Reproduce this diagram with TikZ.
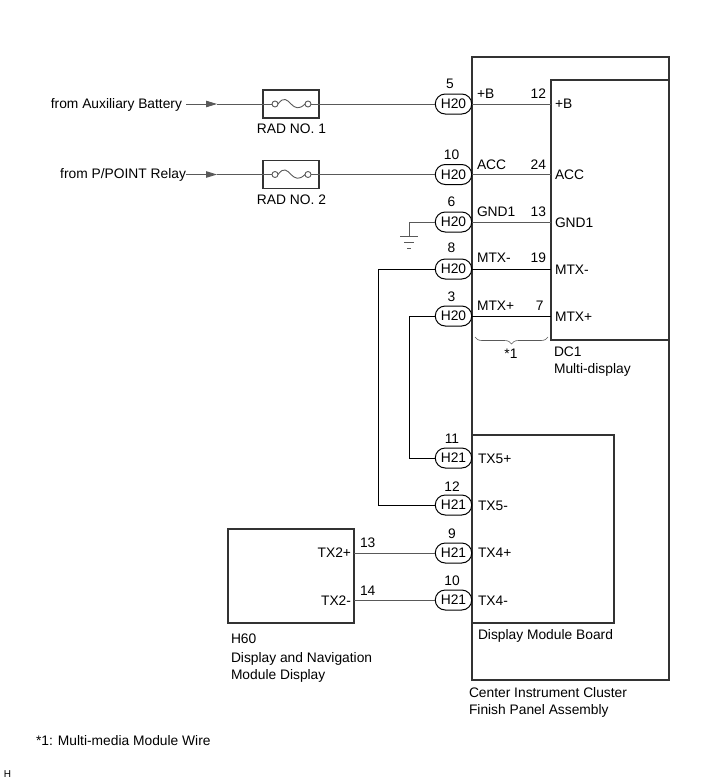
\documentclass[tikz,border=0pt]{standalone}
\usepackage{fontspec}
\setmainfont{Liberation Sans}
\usetikzlibrary{arrows.meta,
                    decorations.pathreplacing,
                    shapes.misc}
\definecolor{fio}{gray}{0.35}
\definecolor{borda}{gray}{0.2}
\tikzset{
caixa/.style = {draw=borda, line width=1.3pt, inner sep=0pt, outer sep=0pt}
         }
\tikzset{
conector/.style = {rounded rectangle, draw=black, line width=1pt, fill=white, minimum width=36.5pt,
        minimum height=20pt, inner sep=0pt, outer sep=0pt, font=\fontsize{13.8}{16}\selectfont}
         }
\tikzset{
rotulo/.style = {inner sep=0pt, outer sep=0pt, font=\fontsize{13.8}{16}\selectfont}
         }
\tikzset{
fio/.style = {draw=fio, line width=0.9pt}
         }
\tikzset{
terminal/.style = {circle, draw=fio, line width=0.9pt, minimum size=6pt, inner sep=0pt, outer sep=0pt}
         }
\begin{document}
\begin{tikzpicture}[x=1pt,y=-1pt]
    \useasboundingbox (0,0) rectangle (713,782);

    % CAIXAS
    \node[caixa, minimum width=197pt, minimum height=623pt] (painel) at (570.5,368.5) {};
    \node[caixa, minimum width=118pt, minimum height=260pt] (dcum) at (610,210) {};
    \node[caixa, minimum width=142pt, minimum height=188pt] (placa) at (543,529) {};
    \node[caixa, minimum width=126pt, minimum height=94pt] (hsessenta) at (291,576) {};

    % FUSIVEIS
    \node[caixa, minimum width=56pt, minimum height=28pt] (radum) at (291,104) {};
    \node[caixa, minimum width=56pt, minimum height=28pt] (raddois) at (291,174.5) {};
    \node[terminal] (fa1) at (275,104) {};
    \node[terminal] (fb1) at (308,104) {};
    \node[terminal] (fa2) at (275,174.5) {};
    \node[terminal] (fb2) at (308,174.5) {};
    \draw[fio] (fa1.east) .. controls (284,96) and (287,100) .. (291,104) .. controls (295,108) and (299,110) .. (fb1.west);
    \draw[fio] (fa2.east) .. controls (284,166.5) and (287,170.5) .. (291,174.5) .. controls (295,178.5) and (299,180.5) .. (fb2.west);

    % CONECTORES H20
    \node[conector] (hc5) at (453.5,104) {H20};
    \node[conector] (hc10) at (453.5,174.5) {H20};
    \node[conector] (hc6) at (453.5,222) {H20};
    \node[conector] (hc8) at (453.5,269) {H20};
    \node[conector] (hc3) at (453.5,316) {H20};

    % CONECTORES H21
    \node[conector] (hd11) at (453.5,458) {H21};
    \node[conector] (hd12) at (453.5,505) {H21};
    \node[conector] (hd9) at (453.5,553) {H21};
    \node[conector] (hd10) at (453.5,600) {H21};

    % ENTRADAS
    \coordinate (ini1) at (186,104);
    \coordinate (seta1) at (217,104);
    \coordinate (ini2) at (186,174.5);
    \coordinate (seta2) at (217,174.5);
    \draw[fio, -{Triangle[length=11pt,width=6.5pt]}] (ini1) -- (seta1);
    \draw[fio] (seta1) -- (fa1.west);
    \draw[fio] (fb1.east) -- (hc5.west);
    \draw[fio, -{Triangle[length=11pt,width=6.5pt]}] (ini2) -- (seta2);
    \draw[fio] (seta2) -- (fa2.west);
    \draw[fio] (fb2.east) -- (hc10.west);

    % FIOS ATE O DC1
    \draw[fio] (hc5.east) -- (hc5.east -| dcum.west);
    \draw[fio] (hc10.east) -- (hc10.east -| dcum.west);
    \draw[fio] (hc6.east) -- (hc6.east -| dcum.west);
    \draw[draw=black, line width=0.7pt] (hc8.east) -- (hc8.east -| dcum.west);
    \draw[draw=black, line width=0.7pt] (hc3.east) -- (hc3.east -| dcum.west);

    % TERRA
    \coordinate (terra) at (409,236);
    \draw[fio] (hc6.west) -- (hc6.west -| terra) -- (terra);
    \draw[fio] (400,236) -- (418,236);
    \draw[fio] (404,242) -- (414,242);
    \draw[fio] (407,248) -- (411,248);

    % FIOS ENTRE H20 E H21
    \coordinate (vmenos) at (378,300);
    \coordinate (vmais) at (409.5,400);
    \draw[draw=black, line width=0.7pt] (hc8.west) -- (hc8.west -| vmenos) -- (hd12.west -| vmenos) -- (hd12.west);
    \draw[draw=black, line width=0.7pt] (hc3.west) -- (hc3.west -| vmais) -- (hd11.west -| vmais) -- (hd11.west);

    % FIOS DO H60
    \draw[fio] (hd9.west -| hsessenta.east) -- (hd9.west);
    \draw[fio] (hd10.west -| hsessenta.east) -- (hd10.west);

    % CHAVE
    \draw[fio, line width=0.6pt, decorate, decoration={brace, mirror, amplitude=7pt}] (475,337) -- (548,337);
    \node[rotulo, anchor=base] (chave) at (511,358) {*1};

    % TEXTOS
    \node[rotulo, anchor=base east] (taux) at (182,108) {from Auxiliary Battery};
    \node[rotulo, anchor=base east] (tppoint) at (186,178) {from P/POINT Relay};
    \node[rotulo, anchor=base] (trad1) at (291.5,133) {RAD NO. 1};
    \node[rotulo, anchor=base] (trad2) at (291.5,204) {RAD NO. 2};

    \node[rotulo, anchor=base] (n5) at (450,88) {5};
    \node[rotulo, anchor=base] (n10) at (451.5,159) {10};
    \node[rotulo, anchor=base] (n6) at (451.5,206) {6};
    \node[rotulo, anchor=base] (n8) at (451.5,252) {8};
    \node[rotulo, anchor=base] (n3) at (451.5,301) {3};
    \node[rotulo, anchor=base] (m11) at (452,443) {11};
    \node[rotulo, anchor=base] (m12) at (452,491) {12};
    \node[rotulo, anchor=base] (m9) at (452,538) {9};
    \node[rotulo, anchor=base] (m10) at (452,585) {10};

    \node[rotulo, anchor=base west] (a1) at (477,98) {+B};
    \node[rotulo, anchor=base west] (a2) at (477,169) {ACC};
    \node[rotulo, anchor=base west] (a3) at (477,216) {GND1};
    \node[rotulo, anchor=base west] (a4) at (477,262) {MTX-};
    \node[rotulo, anchor=base west] (a5) at (477,310) {MTX+};

    \node[rotulo, anchor=base east] (p12) at (546,98) {12};
    \node[rotulo, anchor=base east] (p24) at (546,169) {24};
    \node[rotulo, anchor=base east] (p13) at (546,216) {13};
    \node[rotulo, anchor=base east] (p19) at (546,262) {19};
    \node[rotulo, anchor=base east] (p7) at (543.5,310) {7};

    \node[rotulo, anchor=base west] (b1) at (555,108) {+B};
    \node[rotulo, anchor=base west] (b2) at (555,179) {ACC};
    \node[rotulo, anchor=base west] (b3) at (555,227) {GND1};
    \node[rotulo, anchor=base west] (b4) at (555,274) {MTX-};
    \node[rotulo, anchor=base west] (b5) at (555,321) {MTX+};

    \node[rotulo, anchor=base west] (tdc) at (554,356) {DC1};
    \node[rotulo, anchor=base west] (tmulti) at (554,373) {Multi-display};

    \node[rotulo, anchor=base west] (c1) at (478,463) {TX5+};
    \node[rotulo, anchor=base west] (c2) at (478,510) {TX5-};
    \node[rotulo, anchor=base west] (c3) at (478,557) {TX4+};
    \node[rotulo, anchor=base west] (c4) at (478,605) {TX4-};
    \node[rotulo, anchor=base west] (tplaca) at (478,639) {Display Module Board};

    \node[rotulo, anchor=base east] (d1) at (351,557) {TX2+};
    \node[rotulo, anchor=base east] (d2) at (351,605) {TX2-};
    \node[rotulo, anchor=base west] (q13) at (360,547) {13};
    \node[rotulo, anchor=base west] (q14) at (360,595) {14};

    \node[rotulo, anchor=base west] (th1) at (231,643) {H60};
    \node[rotulo, anchor=base west] (th2) at (231,662) {Display and Navigation};
    \node[rotulo, anchor=base west] (th3) at (231,679) {Module Display};

    \node[rotulo, anchor=base west] (tc1) at (469,697) {Center Instrument Cluster};
    \node[rotulo, anchor=base west] (tc2) at (469,714) {Finish Panel Assembly};

    \node[rotulo, anchor=base west] (tnota) at (36,745) {*1: Multi-media Module Wire};
    \node[rotulo, anchor=base west, font=\fontsize{10}{12}\selectfont] (tcanto) at (4,777) {H};
\end{tikzpicture}
\end{document}
